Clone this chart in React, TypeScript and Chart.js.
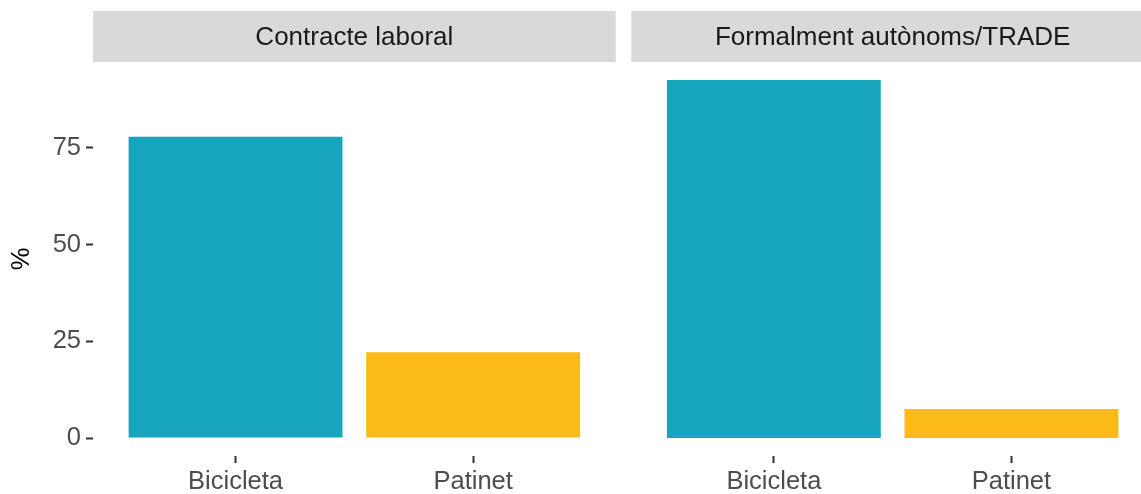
import { useEffect, useRef } from 'react';
import { Chart, registerables } from 'chart.js';

Chart.register(...registerables);

const categories = ['Bicicleta', 'Patinet'];
const panelTitles = ['Contracte laboral', 'Formalment autònoms/TRADE'];
const contracteValues = [77.8, 22.2];
const autonomsValues = [92.5, 7.5];
const yTicks = [0, 25, 50, 75];
const barColors = ['#17A5BD', '#FBBA17'];
const yTitle = '%';

const FONT = '"Liberation Sans", Arial, Helvetica, sans-serif';
const FONT_SIZE = 25.5;
const STRIP_FONT_SIZE = 26;

const allValues = [...contracteValues, ...autonomsValues];
const dataMax = Math.max(...allValues);
const yMin = -dataMax * 0.05;
const yMax = dataMax * 1.05;

function buildChart(
  canvas: HTMLCanvasElement,
  title: string,
  values: number[],
  showY: boolean,
  padLeft: number,
  padRight: number
) {
  const stripPlugin = {
    id: 'strip',
    beforeDraw(chart: any) {
      const { ctx, chartArea } = chart;
      const { left, right, top, bottom } = chartArea;
      const stripH = 51;
      ctx.save();
      ctx.fillStyle = '#D9D9D9';
      ctx.fillRect(left, top - stripH, right - left, stripH);
      ctx.fillStyle = '#1A1A1A';
      ctx.font = `${STRIP_FONT_SIZE}px ${FONT}`;
      ctx.textAlign = 'center';
      ctx.textBaseline = 'middle';
      ctx.fillText(title, (left + right) / 2, top - stripH / 2 + 1);
      if (showY) {
        ctx.fillStyle = '#000000';
        ctx.font = `${FONT_SIZE}px ${FONT}`;
        ctx.translate(22, (top + bottom) / 2);
        ctx.rotate(-Math.PI / 2);
        ctx.fillText(yTitle, 0, 0);
      }
      ctx.restore();
    },
  };

  return new Chart(canvas, {
    type: 'bar',
    data: {
      datasets: [
        {
          data: values.map((v, i) => ({ x: i + 1, y: v })),
          backgroundColor: barColors,
          borderWidth: 0,
          categoryPercentage: 0.9,
          barPercentage: 1,
        },
      ],
    },
    options: {
      animation: false,
      responsive: false,
      maintainAspectRatio: false,
      layout: { padding: { left: padLeft, right: padRight, top: 62, bottom: 0 } },
      plugins: {
        legend: { display: false },
        tooltip: { enabled: false },
        title: { display: false },
      },
      scales: {
        x: {
          type: 'linear',
          offset: false,
          min: 0.4,
          max: categories.length + 0.6,
          afterBuildTicks: (scale: any) => {
            scale.ticks = categories.map((_, i) => ({ value: i + 1 }));
          },
          afterFit: (scale: any) => {
            scale.height = 38;
          },
          ticks: {
            autoSkip: false,
            maxRotation: 0,
            padding: 4,
            color: '#4D4D4D',
            font: { family: FONT, size: FONT_SIZE },
            callback: (v: any) => categories[Number(v) - 1] ?? '',
          },
          grid: {
            offset: false,
            drawOnChartArea: false,
            drawTicks: true,
            tickLength: 7,
            tickWidth: 2,
            tickColor: '#333333',
          },
          border: { display: false },
        },
        y: {
          display: showY,
          min: yMin,
          max: yMax,
          afterBuildTicks: (scale: any) => {
            scale.ticks = yTicks.map((v) => ({ value: v }));
          },
          afterFit: (scale: any) => {
            scale.width = showY ? 93 : 0;
          },
          ticks: {
            padding: 5,
            color: '#4D4D4D',
            font: { family: FONT, size: FONT_SIZE },
            callback: (v: any) => String(v),
          },
          grid: {
            drawOnChartArea: false,
            drawTicks: true,
            tickLength: 7,
            tickWidth: 2,
            tickColor: '#333333',
          },
          border: { display: false },
        },
      },
    } as any,
    plugins: [stripPlugin],
  });
}

export default function App() {
  const leftRef = useRef<HTMLCanvasElement | null>(null);
  const rightRef = useRef<HTMLCanvasElement | null>(null);

  useEffect(() => {
    const charts: Chart[] = [];
    if (leftRef.current) {
      charts.push(buildChart(leftRef.current, panelTitles[0], contracteValues, true, 0, 4.3));
    }
    if (rightRef.current) {
      charts.push(buildChart(rightRef.current, panelTitles[1], autonomsValues, false, 6.3, 11));
    }
    return () => charts.forEach((c) => c.destroy());
  }, []);

  return (
    <div
      style={{
        position: 'absolute',
        left: 0,
        top: 0,
        width: 1141,
        height: 494,
        overflow: 'hidden',
        background: '#FFFFFF',
      }}
    >
      <canvas
        ref={leftRef}
        width={620}
        height={494}
        style={{ position: 'absolute', left: 0, top: 0, width: 620, height: 494 }}
      />
      <canvas
        ref={rightRef}
        width={540}
        height={494}
        style={{ position: 'absolute', left: 625, top: 0, width: 540, height: 494 }}
      />
    </div>
  );
}
